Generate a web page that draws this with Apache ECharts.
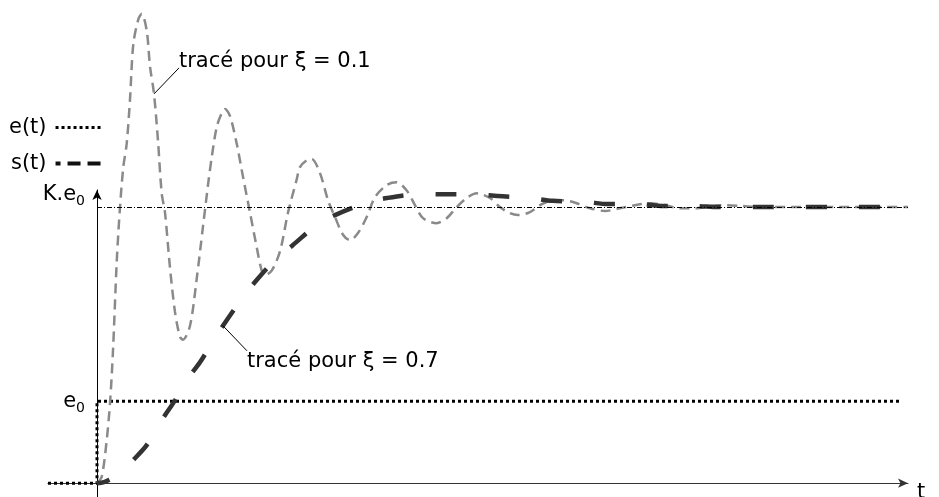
<!DOCTYPE html>
<html>
<head>
<meta charset="utf-8">
<script src="https://cdn.jsdelivr.net/npm/echarts@6/dist/echarts.min.js"></script>
<style>
  html, body { margin: 0; padding: 0; background: #fff; }
  #chart { width: 939px; height: 497px; }
</style>
</head>
<body>
<div id="chart"></div>
<script>
// Step responses of a second-order system, amplitudes normalised so that K.e0 = 1.
const E0 = 0.297;   // input step level e0 (relative to K.e0)
const KE0 = 1;      // final value K.e0

// time range shown on the t axis
const T_MIN = -4.9;
const T_MAX = 81.1;

// input step e(t)
const T_STEP = [T_MIN, 0, 0, 80.3];
const V_STEP = [0, 0, E0, E0];

// output for damping ratio 0.1
const T_XI01 = [0, 0.47, 0.97, 1.3, 1.6, 1.97, 2.3, 2.63, 2.97, 3.3, 3.63, 4.13, 4.47, 4.97, 5.3, 5.7, 6.1, 6.47, 6.8, 7.3,
  7.8, 8.3, 8.6, 9.3, 9.97, 10.6, 11.1, 11.47, 11.97, 12.47, 12.8, 13.3, 13.97, 14.6, 15.3, 15.97, 16.47, 16.8, 17.47, 18.3,
  19.1, 19.97, 20.3, 20.97, 21.47, 22.3, 23.1, 23.8, 24.6, 25.3, 26.1, 26.97, 27.8, 28.97, 29.97, 30.97, 31.8, 32.6, 33.97, 34.97,
  35.97, 36.97, 37.97, 39.3, 40.3, 41.3, 42.1, 43.3, 44.3, 45.6, 46.6, 47.97, 49.3, 50.8, 52.3, 53.8, 55.3, 56.8, 58.3, 59.97,
  61.3, 62.97, 64.5, 66.3, 70.3, 75.3, 81.1];
const V_XI01 = [0, 0.023, 0.156, 0.29, 0.48, 0.80, 1.0, 1.145, 1.23, 1.39, 1.59, 1.68, 1.70, 1.64, 1.51, 1.41, 1.24, 1.05, 0.98, 0.78,
  0.62, 0.53, 0.52, 0.57, 0.74, 0.93, 1.08, 1.18, 1.29, 1.34, 1.355, 1.33, 1.23, 1.11, 0.98, 0.855, 0.77, 0.754, 0.77, 0.84,
  0.98, 1.10, 1.145, 1.17, 1.174, 1.123, 1.025, 0.964, 0.90, 0.88, 0.906, 0.964, 1.036, 1.08, 1.09, 1.06, 1.007, 0.96, 0.942, 0.96,
  1.0, 1.033, 1.05, 1.033, 1.0, 0.978, 0.971, 0.982, 1.007, 1.025, 1.025, 1.014, 0.996, 0.986, 0.996, 1.007, 1.014, 1.007, 0.996, 0.996,
  1.004, 1.007, 1.004, 1.0, 1.0, 1.0, 1.0];

// output s(t) for damping ratio 0.7
const T_XI07 = [0, 0.7, 1.3, 2.3, 3.6, 4.97, 6.47, 7.8, 9.1, 10.3, 11.97, 12.97, 14.6, 15.97, 17.97, 19.57, 21.97, 23.8, 26.8, 29,
  32.3, 34.57, 37.8, 40.07, 43.3, 45.57, 48.8, 51.1, 54.3, 56.6, 59.8, 62.1, 67.6, 78.6];
const V_XI07 = [0, 0.004, 0.014, 0.033, 0.083, 0.138, 0.228, 0.30, 0.38, 0.438, 0.536, 0.59, 0.674, 0.736, 0.815, 0.862, 0.935, 0.971, 1.014, 1.033,
  1.047, 1.047, 1.047, 1.04, 1.033, 1.023, 1.019, 1.011, 1.011, 1.004, 1.004, 1.0, 1.0, 1.0];

// y-axis tick values and their labels (text + subscript)
const Y_TICKS = [E0, KE0];
const Y_TICK_TEXT = ['e', 'K.e'];
const Y_TICK_SUB = ['0', '0'];

// annotations: where the leader leaves the curve (time) and the caption
const NOTE_XI01 = { t: 5.7, text: 'tracé pour ξ = 0.1' };
const NOTE_XI07 = { t: 12.6, text: 'tracé pour ξ = 0.7' };

const FONT = 'DejaVu Sans';
const W = 939;
const GRID = { left: 48, right: 31, top: 190, bottom: 0 };
const zip = (t, v) => t.map((x, i) => [x, v[i]]);

function valueAt(ts, vs, t) {
  for (let i = 1; i < ts.length; i++) {
    if (t <= ts[i]) {
      const f = (t - ts[i - 1]) / (ts[i] - ts[i - 1]);
      return vs[i - 1] + f * (vs[i] - vs[i - 1]);
    }
  }
  return vs[vs.length - 1];
}

// the vertical axis stands at t = 0, inside the grid
const pxPerT = (W - GRID.left - GRID.right) / (T_MAX - T_MIN);
const yAxisOffset = -(0 - T_MIN) * pxPerT;

const chart = echarts.init(document.getElementById('chart'), null, { renderer: 'canvas' });

const option = {
  animation: false,
  backgroundColor: '#fff',
  textStyle: { fontFamily: FONT },
  grid: Object.assign({ containLabel: false, outerBoundsMode: 'none' }, GRID),
  legend: {
    orient: 'vertical',
    left: 9,
    top: 117,
    padding: 0,
    align: 'right',
    itemGap: 15,
    itemWidth: 47,
    itemHeight: 14,
    itemStyle: { opacity: 0 },
    textStyle: { fontFamily: FONT, fontSize: 21, color: '#000', padding: [0, 4, 0, 0] },
    data: [
      { name: 'e(t)', lineStyle: { type: [3, 3], width: 3, color: '#000' } },
      { name: 's(t)', lineStyle: { type: [13, 7], width: 4, color: '#111' } }
    ]
  },
  xAxis: {
    type: 'value',
    min: T_MIN,
    max: T_MAX,
    name: 't',
    nameLocation: 'end',
    nameGap: 9,
    nameTextStyle: { fontFamily: FONT, fontSize: 21, color: '#000', verticalAlign: 'top', padding: [-1, 0, 0, 0] },
    axisLine: { onZero: true, symbol: ['none', 'arrow'], symbolSize: [7, 10], lineStyle: { color: '#333', width: 1 } },
    axisTick: { show: false },
    axisLabel: { show: false },
    splitLine: { show: false }
  },
  yAxis: {
    type: 'value',
    min: -0.05,
    max: 1.062,
    offset: yAxisOffset,
    axisLine: { onZero: false, symbol: ['none', 'arrow'], symbolSize: [7, 10], lineStyle: { color: '#000', width: 1 } },
    axisTick: { show: false },
    splitLine: { show: false },
    axisLabel: {
      customValues: Y_TICKS,
      margin: 12,
      color: '#000',
      formatter: function (v) {
        const i = Y_TICKS.findIndex(y => Math.abs(y - v) < 1e-6);
        if (i < 0) return '';
        const main = '{m|' + Y_TICK_TEXT[i] + '}{s|' + Y_TICK_SUB[i] + '}';
        return v === KE0 ? main + '\n{gap| }' : main;
      },
      rich: {
        m: { fontFamily: FONT, fontSize: 21, lineHeight: 28, color: '#000' },
        s: { fontFamily: FONT, fontSize: 14, lineHeight: 28, verticalAlign: 'bottom', color: '#000' },
        gap: { fontSize: 10, lineHeight: 26 }
      }
    }
  },
  series: [
    {
      name: 'e(t)',
      type: 'line',
      data: zip(T_STEP, V_STEP),
      symbol: 'none',
      z: 2,
      lineStyle: { color: '#000', width: 3, type: [3, 3], cap: 'butt' }
    },
    {
      name: 'ξ = 0.1',
      type: 'line',
      data: zip(T_XI01, V_XI01),
      symbol: 'none',
      smooth: 0.3,
      clip: false,
      z: 3,
      lineStyle: { color: '#8a8a8a', width: 2.5, type: [10, 6] }
    },
    {
      name: 's(t)',
      type: 'line',
      data: zip(T_XI07, V_XI07),
      symbol: 'none',
      smooth: 0.3,
      clip: false,
      z: 4,
      lineStyle: { color: '#333', width: 4.5, type: [21, 32], dashOffset: 8 },
      markLine: {
        silent: true,
        symbol: 'none',
        label: { show: false },
        lineStyle: { color: '#000', width: 1, type: [5, 2, 1, 2] },
        data: [[{ coord: [0, KE0] }, { coord: [T_MAX, KE0] }]]
      }
    }
  ]
};

chart.setOption(option);

// leader lines and captions, anchored on the curves
function addNote(note, ts, vs, dx, dy, below) {
  const p = chart.convertToPixel({ gridIndex: 0 }, [note.t, valueAt(ts, vs, note.t)]);
  const ex = p[0] + dx, ey = p[1] + dy;
  return [
    {
      type: 'line',
      shape: { x1: p[0], y1: p[1], x2: ex, y2: ey },
      style: { stroke: '#000', lineWidth: 1 },
      z: 10
    },
    {
      type: 'text',
      x: ex,
      y: below ? ey : ey + 4,
      style: {
        text: note.text,
        fontFamily: FONT,
        fontSize: 21,
        fill: '#000',
        align: 'left',
        verticalAlign: below ? 'top' : 'bottom'
      },
      z: 10
    }
  ];
}

chart.setOption({
  graphic: [].concat(
    addNote(NOTE_XI01, T_XI01, V_XI01, 25, -26, false),
    addNote(NOTE_XI07, T_XI07, V_XI07, 24, 25, true)
  )
});
</script>
</body>
</html>
